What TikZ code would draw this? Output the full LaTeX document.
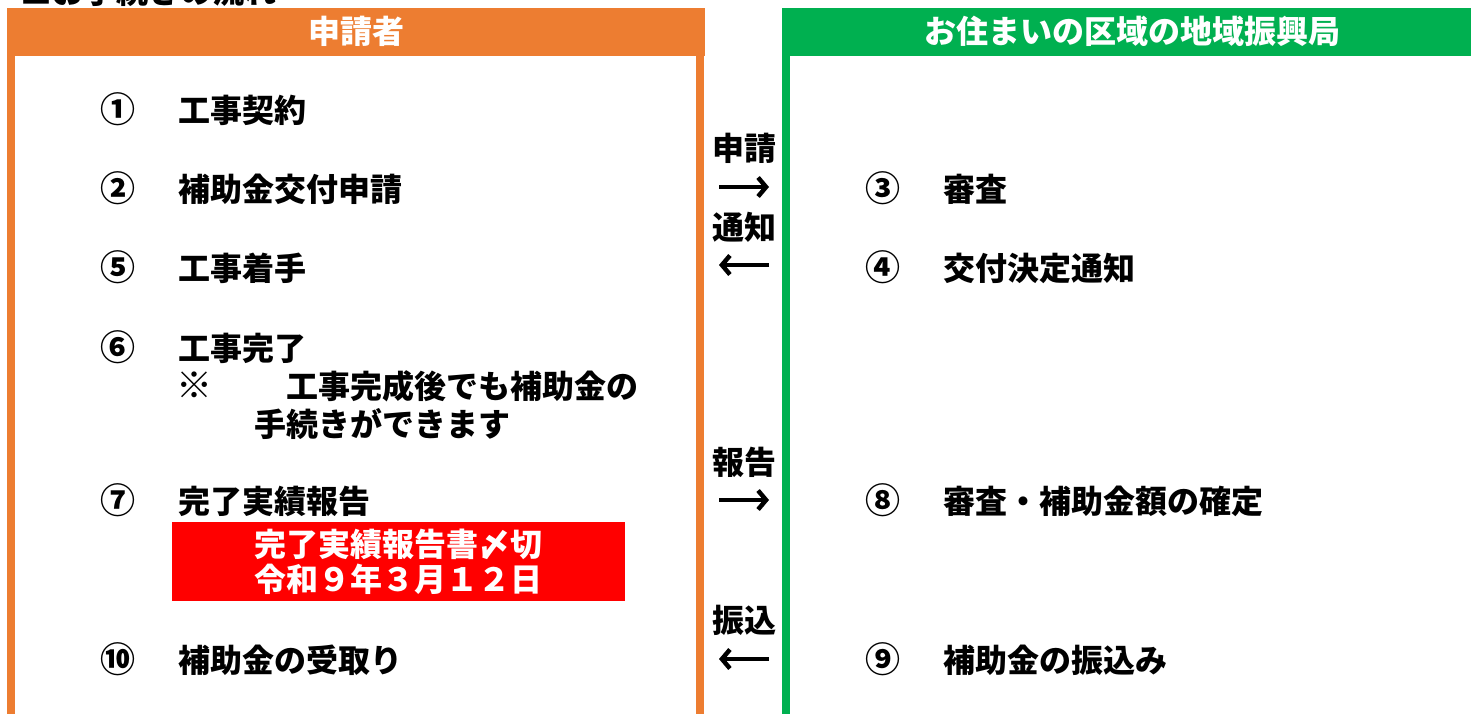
\documentclass[tikz,border=0pt]{standalone}
\usepackage{fontspec}
\setmainfont{Noto Sans CJK JP}
\usetikzlibrary{arrows.meta}
\definecolor{hdrorange}{HTML}{ED7D31}
\definecolor{hdrgreen}{HTML}{00B050}
\definecolor{boxred}{HTML}{FF0000}
\tikzset{
  jp/.style={font=\fontsize{32}{35}\selectfont\bfseries, inner sep=0pt, text height=28pt, text depth=4pt},
  item/.style={jp, anchor=west},
  num/.style={jp, anchor=center, font=\fontsize{35}{35}\selectfont\bfseries},
  mid/.style={jp, anchor=center},
  hdr/.style={jp, text=white, minimum height=48pt, inner sep=0pt},
  flow/.style={line width=4.5pt, -{Straight Barb[length=8pt, width=19pt, line width=4.5pt]}},
}
\begin{document}
\begin{tikzpicture}[x=1pt, y=-1pt]
\clip (0,0) rectangle (1471,714);
\useasboundingbox (0,0) rectangle (1471,714);
% cut-off title
\node[item] (title) at (20,-8) {■お手続きの流れ};
% headers
\node[hdr, fill=hdrorange, minimum width=698pt] (h1) at (356,32) {申請者};
\node[hdr, fill=hdrgreen, minimum width=700pt] (h2) at (1132,32) {お住まいの区域の地域振興局};
% side lines
\fill[hdrorange] (7,56) rectangle (15,714);
\fill[hdrorange] (696,56) rectangle (704,714);
\fill[hdrgreen] (782,56) rectangle (790,714);
% left column
\node[num] (n1) at (118,111) {①};
\node[item] (t1) at (178,111) {工事契約};
\node[num] (n2) at (118,189) {②};
\node[item] (t2) at (178,189) {補助金交付申請};
\node[num] (n5) at (118,268) {⑤};
\node[item] (t5) at (178,268) {工事着手};
\node[num] (n6) at (118,348) {⑥};
\node[item] (t6) at (178,348) {工事完了};
\node[item, font=\fontsize{36}{36}\selectfont\bfseries] (t6a) at (176,386) {※};
\node[item] (t6b) at (286,386) {工事完成後でも補助金の};
\node[item] (t6c) at (254,424) {手続きができます};
\node[num] (n7) at (118,501) {⑦};
\node[item] (t7) at (178,501) {完了実績報告};
\node[jp, fill=boxred, text=white, minimum width=453pt, minimum height=79pt, align=center, text height=, text depth=] (dl) at (398.5,561.5) {完了実績報告書〆切\\令和９年３月１２日};
\node[num] (n10) at (118,660) {⑩};
\node[item] (t10) at (178,660) {補助金の受取り};
% right column
\node[num] (n3) at (883,189) {③};
\node[item] (t3) at (943,189) {審査};
\node[num] (n4) at (883,268) {④};
\node[item] (t4) at (943,268) {交付決定通知};
\node[num] (n8) at (883,501) {⑧};
\node[item] (t8) at (943,501) {審査・補助金額の確定};
\node[num] (n9) at (883,660) {⑨};
\node[item] (t9) at (943,660) {補助金の振込み};
% middle labels and arrows
\node[mid] (m1) at (744,149) {申請};
\coordinate (a1l) at (719,187); \coordinate (a1r) at (769,187);
\draw[flow] (a1l) -- (a1r);
\node[mid] (m2) at (744,227) {通知};
\coordinate (a2l) at (719,265); \coordinate (a2r) at (769,265);
\draw[flow] (a2r) -- (a2l);
\node[mid] (m3) at (744,462) {報告};
\coordinate (a3l) at (719,500); \coordinate (a3r) at (769,500);
\draw[flow] (a3l) -- (a3r);
\node[mid] (m4) at (744,620) {振込};
\coordinate (a4l) at (719,659); \coordinate (a4r) at (769,659);
\draw[flow] (a4r) -- (a4l);
\end{tikzpicture}
\end{document}
